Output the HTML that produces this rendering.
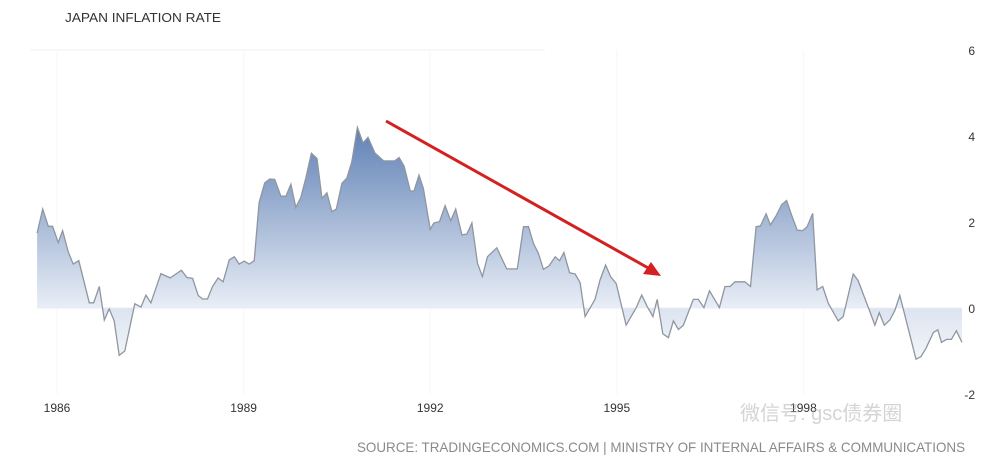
<!DOCTYPE html>
<html><head><meta charset="utf-8"><style>
body{margin:0;background:#fff;}
svg{display:block;font-family:"Liberation Sans","Noto Sans CJK SC",sans-serif;}
</style></head><body>
<svg id="chart" width="1000" height="464" viewBox="0 0 1000 464">
<defs>
<linearGradient id="gUp" x1="0" y1="127" x2="0" y2="308" gradientUnits="userSpaceOnUse">
<stop offset="0" stop-color="#5f80b5"/><stop offset="1" stop-color="#e9eef6"/></linearGradient>
<linearGradient id="gDn" x1="0" y1="308" x2="0" y2="360" gradientUnits="userSpaceOnUse">
<stop offset="0" stop-color="#dce4f0"/><stop offset="1" stop-color="#f3f6fa"/></linearGradient>
<clipPath id="cUp"><rect x="0" y="0" width="1000" height="308"/></clipPath>
<clipPath id="cDn"><rect x="0" y="308" width="1000" height="156"/></clipPath>
</defs>
<text x="65" y="22" font-size="13" fill="#333" textLength="156" lengthAdjust="spacingAndGlyphs">JAPAN INFLATION RATE</text>
<g id="grid"></g>
<g id="series"></g>
<g id="yaxis"></g>
<g id="xaxis"></g>
<g>
<line x1="386" y1="121" x2="650" y2="269" stroke="#d42020" stroke-width="3"/>
<polygon points="661,276 643,274 651,262" fill="#d42020"/>
</g>
<text x="740" y="420" font-size="20" fill="#aaa" opacity="0.5">微信号: gsc债券圈</text>
<text x="357" y="452" font-size="14" fill="#8a8a8a" textLength="608" lengthAdjust="spacingAndGlyphs">SOURCE: TRADINGECONOMICS.COM | MINISTRY OF INTERNAL AFFAIRS &amp; COMMUNICATIONS</text>
</svg>
<script>
const dates=[1985.68,1985.77,1985.86,1985.93,1986.02,1986.09,1986.18,1986.26,1986.35,1986.52,1986.59,1986.68,1986.76,1986.84,1986.92,1987.00,1987.09,1987.25,1987.35,1987.43,1987.51,1987.67,1987.82,1988.00,1988.09,1988.18,1988.27,1988.34,1988.42,1988.50,1988.59,1988.67,1988.77,1988.85,1988.93,1989.01,1989.09,1989.17,1989.25,1989.34,1989.42,1989.50,1989.60,1989.68,1989.76,1989.84,1989.92,1990.00,1990.09,1990.18,1990.26,1990.34,1990.42,1990.49,1990.58,1990.66,1990.74,1990.83,1990.92,1991.00,1991.11,1991.25,1991.43,1991.50,1991.58,1991.68,1991.74,1991.82,1991.89,1992.00,1992.06,1992.15,1992.24,1992.33,1992.41,1992.51,1992.59,1992.67,1992.76,1992.84,1992.92,1993.07,1993.23,1993.40,1993.50,1993.58,1993.66,1993.74,1993.82,1993.91,1994.01,1994.08,1994.15,1994.24,1994.33,1994.41,1994.49,1994.65,1994.73,1994.82,1994.90,1994.99,1995.15,1995.31,1995.40,1995.49,1995.58,1995.65,1995.74,1995.83,1995.91,1995.99,1996.07,1996.23,1996.31,1996.40,1996.49,1996.65,1996.74,1996.82,1996.90,1997.06,1997.15,1997.24,1997.31,1997.40,1997.47,1997.56,1997.65,1997.73,1997.81,1997.90,1997.99,1998.06,1998.15,1998.22,1998.31,1998.40,1998.56,1998.64,1998.80,1998.88,1999.06,1999.15,1999.22,1999.30,1999.39,1999.47,1999.55,1999.81,1999.89,1999.97,2000.09,2000.16,2000.22,2000.30,2000.38,2000.46,2000.55];
const rates=[1.74,2.3,1.9,1.9,1.52,1.8,1.31,1.02,1.1,0.12,0.12,0.5,-0.28,-0.02,-0.3,-1.1,-1.0,0.1,0.02,0.3,0.12,0.8,0.7,0.88,0.71,0.69,0.29,0.21,0.21,0.5,0.7,0.61,1.12,1.19,1.02,1.09,1.02,1.1,2.45,2.91,3.0,2.99,2.6,2.6,2.88,2.34,2.57,3.02,3.6,3.48,2.55,2.68,2.24,2.3,2.9,3.02,3.4,4.2,3.84,3.97,3.61,3.42,3.42,3.5,3.3,2.72,2.72,3.09,2.78,1.83,1.98,2.01,2.38,2.03,2.3,1.7,1.72,1.98,1.04,0.73,1.19,1.4,0.91,0.91,1.89,1.89,1.5,1.27,0.9,0.98,1.19,1.1,1.29,0.82,0.79,0.59,-0.2,0.2,0.65,1.0,0.73,0.57,-0.4,0,0.3,0.03,-0.2,0.2,-0.6,-0.69,-0.3,-0.5,-0.4,0.2,0.2,0.01,0.4,0.01,0.5,0.5,0.61,0.61,0.5,1.89,1.91,2.19,1.93,2.14,2.4,2.5,2.16,1.81,1.8,1.89,2.2,0.42,0.5,0.11,-0.3,-0.2,0.79,0.64,-0.05,-0.4,-0.11,-0.4,-0.28,-0.06,0.29,-1.19,-1.13,-0.94,-0.57,-0.51,-0.8,-0.73,-0.73,-0.53,-0.8];
const yTicks=[6,4,2,0,-2];
const xTicks=[1986,1989,1992,1995,1998];

const NS='http://www.w3.org/2000/svg';
const xS=d=>57+(d-1986)*62.2;
const yS=v=>308-v*43;
function mk(tag,attrs,parent){const e=document.createElementNS(NS,tag);for(const k in attrs)e.setAttribute(k,attrs[k]);parent.appendChild(e);return e;}
const grid=document.getElementById('grid'),ser=document.getElementById('series'),ya=document.getElementById('yaxis'),xa=document.getElementById('xaxis');
yTicks.forEach(t=>{
  if(t===yTicks[0]){const l=mk('line',{x1:30,x2:545,y1:yS(t),y2:yS(t),stroke:'#f0f0f0','stroke-width':1},grid);
  
  }
  const tx=mk('text',{x:975,y:yS(t)+5,'font-size':12,fill:'#333','text-anchor':'end'},ya);
  tx.textContent=t;
  
  
});
xTicks.forEach(t=>{
  const l=mk('line',{x1:xS(t),x2:xS(t),y1:50,y2:394,stroke:'#f7f7f7','stroke-width':1},grid);
  
  
  const tx=mk('text',{x:xS(t),y:412,'font-size':12,fill:'#333','text-anchor':'middle'},xa);
  tx.textContent=t;
  
  
});
let line='';
dates.forEach((d,i)=>{line+=(i?'L':'M')+xS(d).toFixed(1)+','+yS(rates[i]).toFixed(1);});
const x0=xS(dates[0]).toFixed(1),x1=xS(dates[dates.length-1]).toFixed(1);
const area=line+'L'+x1+','+yS(0)+'L'+x0+','+yS(0)+'Z';
const aU=mk('path',{d:area,fill:'url(#gUp)','clip-path':'url(#cUp)'},ser);


const aD=mk('path',{d:area,fill:'url(#gDn)','clip-path':'url(#cDn)'},ser);


const zl=mk('line',{x1:x0,x2:x1,y1:yS(0),y2:yS(0),stroke:'#e8edf4','stroke-width':1},ser);


const ln=mk('path',{d:line,fill:'none',stroke:'#8f96a0','stroke-width':1.3},ser);


</script>
</body></html>
